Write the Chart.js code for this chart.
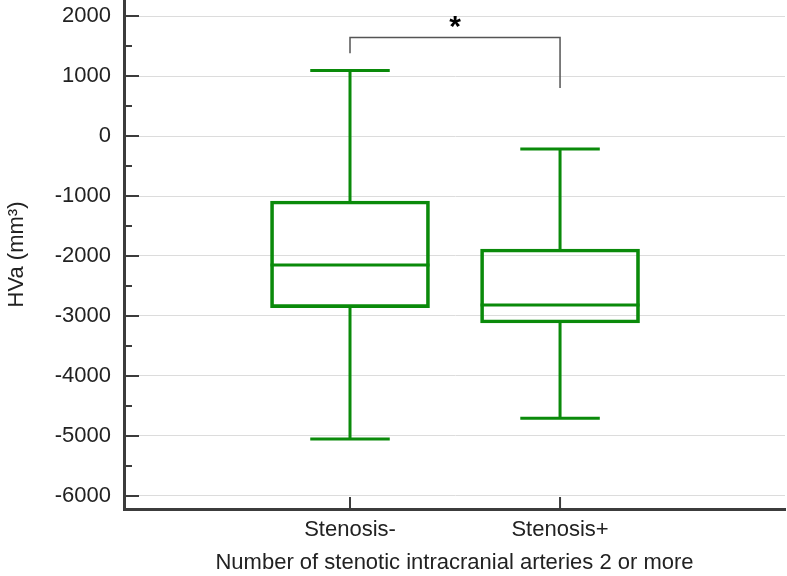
<!DOCTYPE html>
<html>
<head>
<meta charset="utf-8">
<script src="https://cdn.jsdelivr.net/npm/chart.js@4"></script>
<style>
  body { margin: 0; background: #fff; }
  #wrap { width: 787px; height: 576px; position: relative; }
</style>
</head>
<body>
<div id="wrap"><canvas id="myChart"></canvas></div>
<script>
// datos
const categorias = ['Stenosis-', 'Stenosis+'];
const bigoteInf = [-5050, -4705];
const q1 = [-2861, -3117];
const mediana = [-2150, -2817];
const q3 = [-1083, -1883];
const bigoteSup = [1090, -217];
const ticksY = [2000, 1000, 0, -1000, -2000, -3000, -4000, -5000, -6000];
// corchete de significancia: altura, extremo izq, extremo der
const corchete = [1640, 1380, 800];
const etiquetaSig = '*';

const verde = '#0a8a0a';
const gris = '#3c3c3c';

const cajaPlugin = {
  id: 'cajas',
  afterDatasetsDraw(chart) {
    const ctx = chart.ctx;
    const x = chart.scales.x;
    const y = chart.scales.y;
    const area = chart.chartArea;
    const meta = chart.getDatasetMeta(0);

    ctx.save();
    ctx.strokeStyle = verde;
    ctx.lineWidth = 3;
    ctx.lineCap = 'butt';
    categorias.forEach((c, i) => {
      const xc = x.getPixelForValue(i + 1);
      const half = meta.data[i].width / 2;
      const cap = half / 2;
      ctx.beginPath();
      // mediana
      ctx.moveTo(xc - half, y.getPixelForValue(mediana[i]));
      ctx.lineTo(xc + half, y.getPixelForValue(mediana[i]));
      // bigotes
      ctx.moveTo(xc, y.getPixelForValue(q3[i]));
      ctx.lineTo(xc, y.getPixelForValue(bigoteSup[i]));
      ctx.moveTo(xc, y.getPixelForValue(q1[i]));
      ctx.lineTo(xc, y.getPixelForValue(bigoteInf[i]));
      // topes
      ctx.moveTo(xc - cap, y.getPixelForValue(bigoteSup[i]));
      ctx.lineTo(xc + cap, y.getPixelForValue(bigoteSup[i]));
      ctx.moveTo(xc - cap, y.getPixelForValue(bigoteInf[i]));
      ctx.lineTo(xc + cap, y.getPixelForValue(bigoteInf[i]));
      ctx.stroke();
    });

    // marcas de los ejes hacia adentro
    ctx.strokeStyle = gris;
    ctx.lineWidth = 2;
    ctx.beginPath();
    ticksY.forEach(v => {
      const py = y.getPixelForValue(v);
      ctx.moveTo(area.left, py);
      ctx.lineTo(area.left + 15, py);
      const pm = y.getPixelForValue(v - 500);
      if (pm < area.bottom) {
        ctx.moveTo(area.left, pm);
        ctx.lineTo(area.left + 8, pm);
      }
    });
    categorias.forEach((c, i) => {
      const px = x.getPixelForValue(i + 1);
      ctx.moveTo(px, area.bottom);
      ctx.lineTo(px, area.bottom - 12);
    });
    ctx.stroke();

    // corchete
    const x1 = x.getPixelForValue(1);
    const x2 = x.getPixelForValue(2);
    const yTop = y.getPixelForValue(corchete[0]);
    ctx.strokeStyle = '#555';
    ctx.lineWidth = 1.5;
    ctx.beginPath();
    ctx.moveTo(x1, y.getPixelForValue(corchete[1]));
    ctx.lineTo(x1, yTop);
    ctx.lineTo(x2, yTop);
    ctx.lineTo(x2, y.getPixelForValue(corchete[2]));
    ctx.stroke();

    ctx.fillStyle = '#000';
    ctx.font = 'bold 30px "Liberation Sans", Arial, sans-serif';
    ctx.textAlign = 'center';
    ctx.textBaseline = 'middle';
    ctx.fillText(etiquetaSig, (x1 + x2) / 2, yTop - 10);
    ctx.restore();
  }
};

const fuente = { family: '"Liberation Sans", Arial, sans-serif', size: 22 };

new Chart(document.getElementById('myChart'), {
  type: 'bar',
  data: {
    datasets: [{
      data: categorias.map((c, i) => ({ x: i + 1, y: [q1[i], q3[i]] })),
      backgroundColor: 'rgba(0,0,0,0)',
      borderColor: verde,
      borderWidth: 3,
      borderSkipped: false,
      barThickness: 159
    }]
  },
  options: {
    responsive: true,
    maintainAspectRatio: false,
    animation: false,
    layout: { padding: { left: 4, right: 2, top: 0, bottom: 0 } },
    plugins: { legend: { display: false }, tooltip: { enabled: false } },
    scales: {
      x: {
        type: 'linear',
        offset: false,
        min: -0.076,
        max: 3.071,
        afterBuildTicks: s => { s.ticks = [{ value: 1 }, { value: 2 }]; },
        afterFit: s => { s.height = 67; },
        ticks: {
          callback: v => categorias[v - 1],
          font: fuente,
          color: '#222',
          padding: 8,
          maxRotation: 0
        },
        grid: { display: false, drawTicks: false },
        border: { display: true, color: gris, width: 3 },
        title: {
          display: true,
          text: 'Number of stenotic intracranial arteries 2 or more',
          font: fuente,
          color: '#222',
          padding: { top: 2, bottom: 0 }
        }
      },
      y: {
        min: -6217,
        max: 2267,
        afterBuildTicks: s => { s.ticks = ticksY.map(v => ({ value: v })); },
        afterFit: s => { s.width = 120; s.paddingTop = 0; s.paddingBottom = 0; },
        ticks: { font: fuente, color: '#222', padding: 13, callback: v => String(v) },
        grid: { color: '#dcdcdc', lineWidth: 1, drawTicks: false },
        border: { display: true, color: gris, width: 3 },
        title: {
          display: true,
          text: 'HVa (mm³)',
          font: fuente,
          color: '#222',
          padding: { top: 0, bottom: 0 }
        }
      }
    }
  },
  plugins: [cajaPlugin]
});
</script>
</body>
</html>
